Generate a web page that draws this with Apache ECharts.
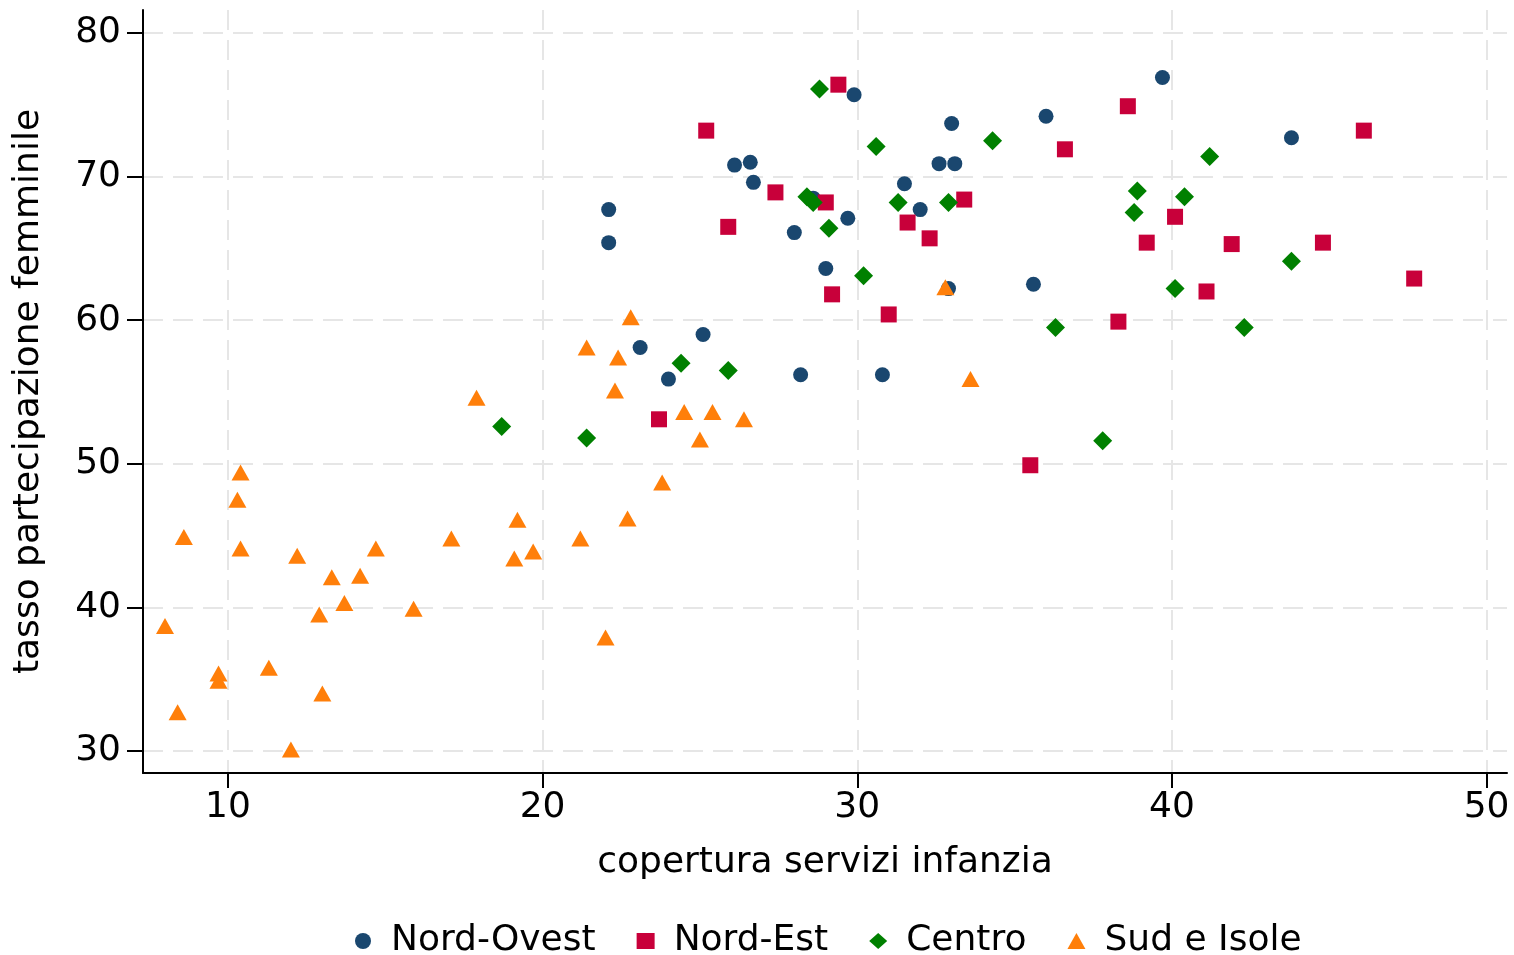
<!DOCTYPE html>
<html>
<head>
<meta charset="utf-8">
<script src="https://cdn.jsdelivr.net/npm/echarts@6/dist/echarts.min.js"></script>
<style>
html,body{margin:0;padding:0;background:#fff;}
#chart{width:1514px;height:955px;}
</style>
</head>
<body>
<div id="chart"></div>
<script>
const seriesNames = ['Nord-Ovest', 'Nord-Est', 'Centro', 'Sud e Isole'];
const xTicks = [10, 20, 30, 40, 50];
const yTicks = [30, 40, 50, 60, 70, 80];
const xAxisName = 'copertura servizi infanzia';
const yAxisName = 'tasso partecipazione femminile';

// [copertura servizi infanzia, tasso partecipazione femminile]
const nordOvest = [
  [22.1, 65.4], [22.1, 67.7], [26.1, 70.8], [26.6, 71.0], [26.7, 69.6],
  [28.0, 66.1], [28.6, 68.5], [29.9, 75.7], [29.7, 67.1], [29.0, 63.6],
  [31.5, 69.5], [32.0, 67.7], [32.6, 70.9], [33.1, 70.9], [33.0, 73.7],
  [32.9, 62.2], [36.0, 74.2], [35.6, 62.5], [39.7, 76.9], [43.8, 72.7],
  [23.1, 58.1], [25.1, 59.0], [24.0, 55.9], [28.2, 56.2], [30.8, 56.2]
];
const nordEst = [
  [29.4, 76.4], [25.2, 73.2], [27.4, 68.9], [25.9, 66.5], [29.0, 68.2],
  [33.4, 68.4], [31.6, 66.8], [32.3, 65.7], [29.2, 61.8], [31.0, 60.4],
  [23.7, 53.1], [35.5, 49.9], [38.6, 74.9], [36.6, 71.9], [46.1, 73.2],
  [40.1, 67.2], [39.2, 65.4], [41.9, 65.3], [44.8, 65.4], [47.7, 62.9],
  [41.1, 62.0], [38.3, 59.9]
];
const centro = [
  [28.8, 76.1], [30.6, 72.1], [34.3, 72.5], [28.4, 68.6], [28.6, 68.2],
  [31.3, 68.2], [32.9, 68.2], [29.1, 66.4], [30.2, 63.1], [24.4, 57.0],
  [25.9, 56.5], [21.4, 51.8], [18.7, 52.6], [36.3, 59.5], [41.2, 71.4],
  [38.9, 69.0], [40.4, 68.6], [38.8, 67.5], [43.8, 64.1], [40.1, 62.2],
  [42.3, 59.5], [37.8, 51.6]
];
const sudIsole = [
  [22.8, 60.2], [21.4, 58.1], [22.4, 57.4], [22.3, 55.1], [17.9, 54.6],
  [10.4, 49.4], [10.3, 47.5], [8.6, 44.9], [10.4, 44.1], [12.2, 43.6],
  [14.7, 44.1], [13.3, 42.1], [14.2, 42.2], [13.7, 40.3], [12.9, 39.5],
  [15.9, 39.9], [17.1, 44.8], [19.2, 46.1], [19.1, 43.4], [19.7, 43.9],
  [21.2, 44.8], [22.7, 46.2], [22.0, 37.9], [8.0, 38.7], [9.7, 35.4],
  [9.7, 34.9], [11.3, 35.8], [13.0, 34.0], [8.4, 32.7], [12.0, 30.1],
  [24.5, 53.6], [25.4, 53.6], [26.4, 53.1], [25.0, 51.7], [23.8, 48.7],
  [32.8, 62.3], [33.6, 55.9]
];

const FONT = 'DejaVu Sans';
const gridLine = { show: true, lineStyle: { color: '#e6e6e6', width: 2, type: [20, 10] } };

const chart = echarts.init(document.getElementById('chart'), null, { renderer: 'canvas' });
chart.setOption({
  animation: false,
  backgroundColor: '#ffffff',
  textStyle: { fontFamily: FONT, color: '#000' },
  grid: { left: 143, right: 7, top: 10, bottom: 182, containLabel: false },
  legend: {
    top: 918,
    left: 350,
    itemGap: 41,
    itemWidth: 18,
    itemHeight: 16,
    textStyle: { fontFamily: FONT, fontSize: 36, color: '#000', padding: [0, 0, 0, 14] },
    data: [
      { name: seriesNames[0], icon: 'circle' },
      { name: seriesNames[1], icon: 'rect' },
      { name: seriesNames[2], icon: 'diamond' },
      { name: seriesNames[3], icon: 'triangle' }
    ]
  },
  xAxis: {
    type: 'value',
    min: 7.3,
    max: 50.65,
    name: xAxisName,
    nameLocation: 'middle',
    nameGap: 72,
    nameTextStyle: { fontFamily: FONT, fontSize: 36, color: '#000' },
    axisLine: { show: true, onZero: false, lineStyle: { color: '#000', width: 2 } },
    axisTick: { show: true, length: 15, customValues: xTicks, lineStyle: { color: '#000', width: 2 } },
    axisLabel: { customValues: xTicks, fontFamily: FONT, fontSize: 36, color: '#000', margin: 17 },
    splitLine: gridLine
  },
  yAxis: {
    type: 'value',
    min: 28.47,
    max: 81.6,
    name: yAxisName,
    nameLocation: 'middle',
    nameGap: 96,
    nameTextStyle: { fontFamily: FONT, fontSize: 36, color: '#000' },
    axisLine: { show: true, onZero: false, lineStyle: { color: '#000', width: 2 } },
    axisTick: { show: true, length: 16, customValues: yTicks, lineStyle: { color: '#000', width: 2 } },
    axisLabel: { customValues: yTicks, fontFamily: FONT, fontSize: 36, color: '#000', margin: 22 },
    splitLine: gridLine
  },
  series: [
    { name: seriesNames[0], type: 'scatter', symbol: 'circle', symbolSize: 15,
      itemStyle: { color: '#1a476f', opacity: 1 }, data: nordOvest },
    { name: seriesNames[1], type: 'scatter', symbol: 'rect', symbolSize: 16,
      itemStyle: { color: '#c8003a', opacity: 1 }, data: nordEst },
    { name: seriesNames[2], type: 'scatter', symbol: 'diamond', symbolSize: 19,
      itemStyle: { color: '#008000', opacity: 1 }, data: centro },
    { name: seriesNames[3], type: 'scatter', symbol: 'triangle', symbolSize: [18, 16],
      itemStyle: { color: '#ff7f0a', opacity: 1 }, data: sudIsole }
  ]
});
</script>
</body>
</html>
